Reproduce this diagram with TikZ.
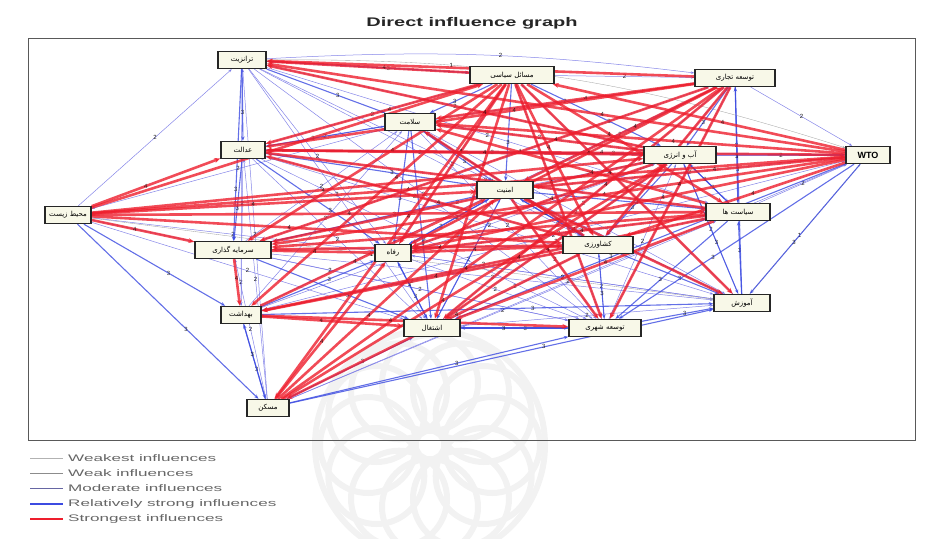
\documentclass[tikz,border=0pt]{standalone}
\usepackage{fontspec}
\setmainfont{Liberation Sans}
\newfontfamily\arabicfont[Script=Arabic]{DejaVu Sans}
\TeXXeTstate=1
\usetikzlibrary{arrows.meta,calc}
\pgfdeclarelayer{wm}
\pgfdeclarelayer{bg}
\pgfsetlayers{wm,bg,main}
\newcommand{\fa}[1]{{\arabicfont\beginR #1\endR}}
\definecolor{redE}{RGB}{238,30,45}
\definecolor{blueE}{RGB}{60,75,225}
\definecolor{weakC}{RGB}{120,120,230}
\definecolor{boxfill}{RGB}{248,248,232}
\begin{document}
\begin{tikzpicture}[x=1pt,y=-1pt,
  box/.style={draw=black!85, line width=1.3pt, fill=boxfill, inner xsep=3pt, inner ysep=2pt,
    minimum height=17pt, font=\fontsize{7}{8}\selectfont},
  strongE/.style={draw=redE, line width=2.6pt, opacity=.8, -{Stealth[length=6pt,width=5pt]}},
  relE/.style={draw=blueE, line width=1.1pt, opacity=.8, -{Stealth[length=4.5pt,width=3.5pt]}},
  weakE/.style={draw=weakC, line width=.5pt, opacity=.9, -{Stealth[length=3.5pt,width=2.5pt]}},
  weakestE/.style={draw=black!35, line width=.35pt, -{Stealth[length=3pt,width=2pt]}},
  lbl/.style={font=\fontsize{6}{6}\selectfont, inner sep=.5pt, text=black},
  legtext/.style={anchor=west, text=black!60, inner sep=0pt, font=\fontsize{9.5}{10}\selectfont},
  wmark/.style={draw=black!5, line width=6pt}
]
\useasboundingbox (0,0) rectangle (925,538);

% watermark
\begin{pgfonlayer}{wm}
\coordinate (wc) at (430,445);
\foreach \t in {0,30,...,330}
  \draw[wmark] ($(wc)+(\t:62)$) circle[radius=48];
\draw[wmark] (wc) circle[radius=115];
\end{pgfonlayer}

% title and frame
\node[font=\bfseries\fontsize{12.5}{13}\selectfont, text=black!85] (title) at (472,23) {\scalebox{1.6}[1]{Direct influence graph}};
\draw[black!65, line width=.8pt] (28,38) rectangle (915,440);

% nodes
\node[box, minimum width=48pt] (A) at (242,60) {\fa{ترانزیت}};
\node[box, minimum width=84pt] (B) at (512,75) {\fa{مسائل سیاسی}};
\node[box, minimum width=80pt] (C) at (735,78) {\fa{توسعه تجاری}};
\node[box, minimum width=50pt] (D) at (410,122) {\fa{سلامت}};
\node[box, minimum width=44pt] (E) at (243,150) {\fa{عدالت}};
\node[box, minimum width=72pt] (F) at (680,155) {\fa{آب و انرژی}};
\node[box, minimum width=44pt, font=\bfseries\fontsize{9}{10}\selectfont] (W) at (868,155) {WTO};
\node[box, minimum width=46pt] (G) at (68,215) {\fa{محیط زیست}};
\node[box, minimum width=56pt] (H) at (505,190) {\fa{امنیت}};
\node[box, minimum width=64pt] (I) at (738,212) {\fa{سیاست ها}};
\node[box, minimum width=76pt] (J) at (233,250) {\fa{سرمایه گذاری}};
\node[box, minimum width=36pt] (K) at (393,253) {\fa{رفاه}};
\node[box, minimum width=70pt] (L) at (598,245) {\fa{کشاورزی}};
\node[box, minimum width=56pt] (M) at (742,303) {\fa{آموزش}};
\node[box, minimum width=40pt] (N) at (241,315) {\fa{بهداشت}};
\node[box, minimum width=56pt] (O) at (432,328) {\fa{اشتغال}};
\node[box, minimum width=72pt] (P) at (605,328) {\fa{توسعه شهری}};
\node[box, minimum width=42pt] (Q) at (268,408) {\fa{مسکن}};

% edges
\begin{pgfonlayer}{bg}
\foreach \a/\b in {G/A, C/W, G/O, G/K, A/F, A/I, E/D, E/B, E/I, E/L, J/D, J/L, J/P,
  N/D, N/L, N/I, Q/J, Q/E, Q/A, Q/I, Q/W, O/L, O/M, P/L, P/F, K/P, K/M, D/M, D/P,
  H/F, H/C, B/C, F/W, I/W, G/P, A/K, A/L, A/O, A/P, A/M, E/O, E/P, E/M,
  J/M, K/I, K/F, D/F, D/C, H/W, O/F, O/C, P/C, P/B, M/F, M/B, N/C, N/F, N/W,
  J/C, J/F, K/B, D/G, L/C, I/C, M/H, M/K, P/H, O/H}
  \draw[weakE] (\a) -- node[lbl, pos=.5] {2} (\b);
\draw[weakE] (A) -- node[lbl, pos=.9] {2} (N);
\draw[weakE] (E) -- node[lbl, pos=.3] {2} (N);
\foreach \a/\b in {M/W, G/M, K/C}
  \draw[weakestE] (\a) -- node[lbl, pos=.45] {1} (\b);
\draw[weakestE] (A) to[bend left=9] node[lbl, pos=.3] {1} (W);
\draw[weakE] (A) to[bend left=5] node[lbl, pos=.55] {2} (C);
\foreach \a/\b in {A/E, E/J, A/B, A/D, E/F, E/W, N/Q, Q/P, Q/M, Q/O, M/I, M/C,
  G/N, G/Q, D/H, H/L, K/O, O/P, P/M, D/K, H/K, H/O, J/H, E/H, D/L, F/I, F/L, I/P,
  L/M, E/K, N/K, D/O, F/M, C/F, C/I, B/D, B/H, B/F, W/P, W/O, H/I, J/O, N/M, W/M,
  Q/N, K/H, L/H, O/K, D/E, I/F, L/P, P/O}
  \draw[relE] (\a) -- node[lbl, pos=.6] {3} (\b);
\draw[relE] (A) -- node[lbl, pos=.7] {3} (J);
\foreach \a/\b in {G/W, G/I, G/L, G/H, G/J, G/E, G/F, G/B,
  W/J, W/H, W/D, W/B, W/K, W/E, W/L, W/A,
  B/J, B/K, B/O, B/P, B/L, B/M, B/I, B/Q, B/N, B/A, B/E,
  C/D, C/J, C/K, C/H, C/L, C/O, C/P, C/E, C/A,
  F/J, F/E, F/D, F/K, F/O, F/A,
  I/J, I/K, I/E, I/O, I/N, I/D,
  L/N, L/E, L/Q, L/J, L/D,
  Q/K, Q/H, Q/C, Q/F,
  N/O, N/P, N/H, J/K, J/N, H/P, H/M, K/L}
  \draw[strongE] (\a) -- node[lbl, pos=.42] {4} (\b);
\end{pgfonlayer}

% legend
\node[legtext] (l1) at (68,458) {\scalebox{1.8}[1]{Weakest influences}};
\node[legtext] (l2) at (68,473) {\scalebox{1.8}[1]{Weak influences}};
\node[legtext] (l3) at (68,488) {\scalebox{1.8}[1]{Moderate influences}};
\node[legtext] (l4) at (68,504) {\scalebox{1.8}[1]{Relatively strong influences}};
\node[legtext] (l5) at (68,519) {\scalebox{1.8}[1]{Strongest influences}};
\coordinate (s1) at (30,458); \coordinate (s2) at (30,473); \coordinate (s3) at (30,488);
\coordinate (s4) at (30,504); \coordinate (s5) at (30,519);
\draw[black!30, line width=.4pt] (s1) -- ([xshift=-5pt]l1.west);
\draw[black!45, line width=.6pt] (s2) -- ([xshift=-5pt]l2.west);
\draw[black!60!blue!60, line width=.8pt] (s3) -- ([xshift=-5pt]l3.west);
\draw[blueE, line width=1.5pt] (s4) -- ([xshift=-5pt]l4.west);
\draw[redE, line width=2pt] (s5) -- ([xshift=-5pt]l5.west);
\end{tikzpicture}
\end{document}
